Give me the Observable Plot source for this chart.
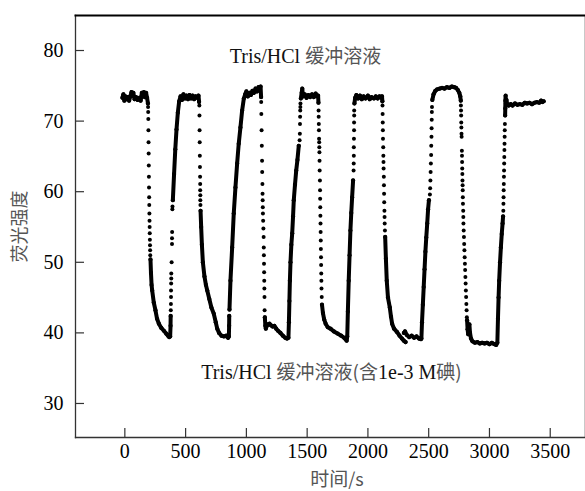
<!DOCTYPE html>
<html>
<head>
<meta charset="utf-8">
<script src="https://cdn.jsdelivr.net/npm/d3@7"></script>
<script src="https://cdn.jsdelivr.net/npm/@observablehq/plot@0.6"></script>
<style>
  html, body { margin: 0; padding: 0; background: white; }
</style>
</head>
<body>
<div id="chart"></div>
<script>
// ---- tick values ----
const xTicks = [0, 500, 1000, 1500, 2000, 2500, 3000, 3500];
const yTicks = [30, 40, 50, 60, 70, 80];

// ---- axis titles ----
const xTitle = "时间/s";
const yTitle = "荧光强度";

// ---- annotations (time s, intensity) ----
const noteText = ["Tris/HCl 缓冲溶液", "Tris/HCl 缓冲溶液(含1e-3 M碘)"];
const noteT = [1486, 1700];
const noteV = [79.15, 34.32];

// ---- dense stretches of the measured trace [time s, intensity] ----
const denseRuns = [
  [[-20,73.3],[-12,73.8],[-4,72.9],[5,73.5],[15,73.1],[25,73.4],[35,72.9],[45,73.5],[55,74.1],[62,73.6],[70,74.0],[80,73.1],[92,73.4],[105,73.0],[118,73.3],[130,72.9],[140,74.0],[148,73.5],[156,74.1],[165,73.4],[175,74.0],[183,73.3],[190,72.5]],
  [[211,50.4],[215,48.5],[220,46.8],[225,46.0],[238,44.3],[252,43.2],[265,42.0],[280,41.3],[300,40.7],[321,40.3],[340,39.9],[355,39.6],[365,39.4],[373,39.5],[376,41.0],[377,42.4]],
  [[395,58.8],[405,62.5],[415,66.0],[425,68.8],[436,71.2],[447,72.8],[458,73.5],[470,73.0],[482,73.8],[495,73.2],[508,73.6],[520,73.1],[532,73.7],[545,73.2],[558,73.6],[570,73.1],[583,73.5],[596,73.3],[606,73.6],[611,72.7]],
  [[623,57.3],[628,55.0],[634,52.5],[642,50.0],[655,48.0],[667,46.8],[678,46.0],[695,44.8],[712,43.6],[732,42.7],[748,41.5],[760,40.6],[775,40.0],[795,39.6],[815,39.5],[835,39.6],[850,39.3],[856,39.5],[858,41.0],[859,42.4]],
  [[861,43.3],[869,47.4],[883,52.1],[896,56.9],[910,60.6],[924,64.0],[937,66.8],[951,69.1],[965,71.5],[979,73.2],[990,73.8],[1000,74.2],[1012,73.5],[1025,74.0],[1037,73.7],[1050,74.3],[1062,74.0],[1075,74.6],[1087,74.2],[1100,74.8],[1110,74.4],[1117,74.9],[1121,73.4]],
  [[1152,42.2],[1156,41.0],[1160,40.6],[1168,41.0],[1178,41.2],[1190,41.3],[1200,41.1],[1215,40.9],[1230,41.0],[1245,40.6],[1260,40.3],[1280,40.0],[1300,39.6],[1320,39.3],[1335,39.2],[1346,39.3],[1350,41.5],[1354,44.5],[1358,47.4],[1363,50.0],[1370,52.5],[1377,54.1],[1384,56.5],[1390,58.8],[1400,61.0],[1410,63.0],[1420,64.5],[1431,66.5]],
  [[1448,73.2],[1455,74.0],[1460,74.6],[1466,73.5],[1480,73.8],[1495,73.3],[1510,73.7],[1525,73.4],[1540,73.8],[1555,73.4],[1570,73.9],[1582,73.5],[1590,73.6],[1593,72.6]],
  [[1622,44.0],[1630,42.8],[1640,41.9],[1652,41.3],[1670,40.8],[1692,40.6],[1720,40.2],[1750,39.9],[1780,39.6],[1805,39.3],[1825,38.9],[1830,39.5],[1835,43.0],[1842,47.4],[1849,51.0],[1856,54.5],[1863,57.0],[1870,59.2],[1878,61.6]],
  [[1889,72.5],[1895,73.3],[1905,73.7],[1920,73.2],[1935,73.6],[1950,73.1],[1965,73.5],[1980,73.2],[2000,73.6],[2015,73.1],[2030,73.4],[2050,73.2],[2065,73.5],[2080,73.2],[2095,73.5],[2110,73.3],[2116,73.5],[2119,72.8]],
  [[2142,53.6],[2148,50.5],[2155,47.4],[2165,45.0],[2180,43.6],[2190,42.3],[2199,41.3],[2215,40.6],[2240,40.1],[2260,39.6],[2280,39.2],[2295,38.9],[2310,38.7]],
  [[2296,40.0],[2305,40.2],[2320,39.7],[2340,39.4],[2360,39.6],[2380,39.3],[2400,39.5],[2420,39.2],[2436,39.1],[2440,39.2],[2445,41.5],[2452,44.0],[2459,46.5],[2466,49.0],[2473,51.5],[2480,53.5],[2488,55.5],[2495,57.5],[2502,58.8]],
  [[2530,73.0],[2540,73.8],[2555,74.3],[2570,74.5],[2590,74.6],[2610,74.7],[2630,74.6],[2650,74.8],[2670,74.7],[2690,74.9],[2710,74.8],[2725,74.7],[2740,74.4],[2752,74.0],[2760,73.5],[2764,72.9]],
  [[2816,41.8],[2820,40.5],[2825,39.8],[2830,40.9],[2835,41.2],[2840,40.0],[2848,39.2],[2860,38.8],[2880,38.6],[2900,38.7],[2920,38.5],[2940,38.6],[2960,38.5],[2980,38.6],[3000,38.4],[3020,38.6],[3040,38.4],[3055,38.3],[3065,38.6],[3070,42.0],[3075,45.0],[3080,47.4],[3087,50.0],[3094,52.1],[3101,54.0],[3108,55.5],[3112,56.5]],
  [[3129,70.8],[3130,71.8],[3131,72.9],[3133,73.6],[3136,72.5],[3140,73.0],[3147,72.3],[3158,72.2],[3175,72.4],[3190,72.2],[3210,72.5],[3230,72.3],[3250,72.4],[3270,72.3],[3290,72.6],[3310,72.5],[3330,72.6],[3350,72.4],[3370,72.6],[3390,72.7],[3410,72.6],[3425,72.9],[3435,72.7],[3446,72.8]]
];

// ---- sparse samples during the fast transitions [time s, intensity] ----
const sparseDots = [
  [191,72.0],[192,71.3],[193,70.3],[194,68.7],[195,67.0],[196,65.4],[197,63.7],[198,62.1],[199,60.6],[200,59.2],[201,58.1],[202,56.9],[203,55.9],[204,55.0],[205,54.1],[206,53.2],[207,52.4],[208,51.7],[209,51.0],
  [378,43.2],[379,44.1],[380,45.1],[380,46.0],[381,47.0],[382,47.7],[382,48.4],[385,50.0],[388,52.6],[388,53.4],[389,54.3],[391,57.5],[392,57.9],
  [613,72.2],[614,70.8],[615,68.7],[616,67.0],[617,65.1],[618,63.5],[619,62.1],[620,61.1],[620,60.2],[621,59.5],[621,58.8],[622,58.1],
  [1122,72.7],[1123,71.0],[1125,68.7],[1127,66.5],[1129,64.4],[1130,62.8],[1132,61.1],[1133,59.7],[1134,58.8],[1135,57.8],[1136,56.9],[1138,55.9],[1140,54.8],[1142,53.6],[1143,52.1],[1144,51.0],[1145,49.8],[1146,48.6],[1147,47.4],[1148,46.3],[1149,45.1],[1150,43.2],
  [1438,67.3],[1440,68.2],[1441,69.6],[1442,70.6],[1443,71.5],[1444,72.0],[1445,72.5],
  [1594,71.5],[1595,70.6],[1596,69.6],[1597,68.7],[1598,67.5],[1599,67.0],[1600,66.3],[1601,65.6],[1602,64.4],[1603,63.0],[1605,61.6],[1606,60.2],[1607,59.0],[1608,57.8],[1609,56.6],[1610,55.5],[1611,54.3],[1612,53.1],[1613,51.9],[1614,50.7],[1615,49.6],[1616,48.4],[1617,47.4],[1618,46.3],[1620,45.1],
  [1882,63.0],[1883,64.0],[1884,65.1],[1884,66.3],[1885,67.5],[1886,68.7],[1886,69.8],[1887,70.8],[1887,71.5],
  [2120,72.2],[2121,71.0],[2122,69.8],[2123,68.7],[2124,67.5],[2126,66.3],[2127,65.1],[2128,64.2],[2129,63.3],[2131,62.1],[2132,60.9],[2133,59.7],[2134,58.5],[2136,57.3],[2137,56.4],[2138,55.5],[2140,54.5],
  [2510,59.6],[2512,60.5],[2514,61.6],[2516,62.8],[2518,64.0],[2520,65.2],[2521,66.5],[2523,67.8],[2524,69.0],[2525,70.2],[2526,71.3],[2527,72.0],
  [2765,72.2],[2766,71.5],[2767,70.8],[2768,69.8],[2769,69.1],[2770,68.2],[2771,67.8],[2773,65.8],[2774,65.1],[2775,64.2],[2776,63.3],[2777,62.5],[2778,61.6],[2779,60.9],[2780,60.2],[2781,59.2],[2782,58.3],[2784,57.3],[2785,56.4],[2786,55.5],[2788,54.5],[2790,53.6],[2792,52.6],[2794,51.7],[2796,50.7],[2798,49.8],[2800,48.9],[2802,47.9],[2804,47.0],[2806,46.0],[2808,45.1],[2810,44.1],[2812,43.2],[2814,42.2],
  [3114,57.3],[3115,58.3],[3116,59.2],[3117,60.2],[3118,61.1],[3119,62.1],[3120,63.0],[3121,64.0],[3122,64.9],[3123,65.9],[3124,66.8],[3125,67.8],[3126,68.7],[3127,69.6]
];

// ---- build tables ----
const denseTable = denseRuns.flatMap((run, i) => run.map(([t, v]) => ({t, v, run: i})));
const sparseTable = sparseDots.map(([t, v]) => ({t, v}));
const notes = noteText.map((label, i) => ({label, t: noteT[i], v: noteV[i]}));

// ---- layout ----
const W = 585, H = 491;
const mL = 75, mR = 1, mT = 15, mB = 54;
const plotW = W - mL - mR, plotH = H - mT - mB;
const tickLen = 9;
const serif = "'Liberation Serif', 'Times New Roman', serif";
const cjk = "'Noto Sans CJK SC', sans-serif";

const chart = Plot.plot({
  width: W, height: H,
  marginLeft: mL, marginRight: mR, marginTop: mT, marginBottom: mB,
  x: {domain: [-406, 3782]},
  y: {domain: [25.18, 84.96]},
  style: {fontFamily: serif, fontSize: "20px", background: "white", color: "black"},
  marks: [
    Plot.frame({anchor: "right", stroke: "#c8c8c8", strokeWidth: 1}),
    Plot.frame({anchor: "bottom", stroke: "#333", strokeWidth: 1.3}),
    Plot.frame({anchor: "left", stroke: "#333", strokeWidth: 1.3}),
    Plot.frame({anchor: "top", stroke: "#000", strokeWidth: 2}),
    Plot.ruleX(xTicks, {x: d => d, insetTop: plotH - tickLen, stroke: "#333", strokeWidth: 1.2}),
    Plot.ruleY(yTicks, {y: d => d, insetRight: plotW - tickLen, stroke: "#333", strokeWidth: 1.2}),
    Plot.axisX(xTicks, {tickSize: 0, tickPadding: 6, fontSize: 20, fontFamily: serif, label: null, tickFormat: d => String(d)}),
    Plot.axisY(yTicks, {tickSize: 0, tickPadding: 12, fontSize: 20, fontFamily: serif, label: null, tickFormat: d => String(d)}),
    Plot.line(denseTable, {x: "t", y: "v", z: "run", stroke: "black", strokeWidth: 4.0}),
    Plot.dot(denseTable, {x: "t", y: "v", r: 2.1, fill: "black"}),
    Plot.dot(sparseTable, {x: "t", y: "v", r: 2.0, fill: "black"}),
    Plot.text(notes, {x: "t", y: "v", text: "label", fontSize: 20, fontFamily: serif, fill: "#111"}),
    Plot.text([xTitle], {text: d => d, frameAnchor: "bottom", lineAnchor: "middle", textAnchor: "middle", dy: 43, dx: 7, fontSize: 18, fontFamily: cjk, fill: "#555"}),
    Plot.text([yTitle], {text: d => d, frameAnchor: "left", lineAnchor: "middle", textAnchor: "middle", rotate: -90, dx: -55, fontSize: 18, fontFamily: cjk, fill: "#555"})
  ]
});

// tick labels in the serif face, as in the original
chart.querySelectorAll('g[aria-label$="tick label"]').forEach(g => {
  g.style.fontFamily = serif;
  g.style.fontVariant = "normal";
  g.querySelectorAll("text").forEach(t => { t.style.fontFamily = serif; });
});

// colour the CJK runs of the mixed annotations grey, as in the original
chart.querySelectorAll('g[aria-label="text"] text').forEach(el => {
  const s = el.textContent;
  if (!/[A-Za-z]/.test(s) || !/[\u3400-\u9fff]/.test(s)) return;
  const parts = s.split(/([\u3400-\u9fff()]+)/).filter(p => p);
  el.textContent = "";
  for (const p of parts) {
    const ts = document.createElementNS("http://www.w3.org/2000/svg", "tspan");
    ts.textContent = p;
    if (/^[\u3400-\u9fff()]+$/.test(p)) {
      ts.setAttribute("fill", "#555");
      ts.setAttribute("font-family", cjk);
      ts.setAttribute("font-size", "19");
    }
    el.appendChild(ts);
  }
});

document.getElementById("chart").appendChild(chart);
</script>
</body>
</html>
